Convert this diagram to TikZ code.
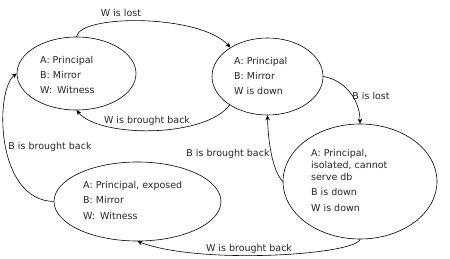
\documentclass[tikz,border=0pt]{standalone}
\usepackage{fontspec}
\setmainfont{DejaVu Sans}
\usetikzlibrary{shapes.geometric,arrows.meta}
\begin{document}
\begin{tikzpicture}[x=1pt,y=-1pt,
  state/.style={draw=black,line width=0.6pt,ellipse,inner sep=0pt},
  txt/.style={anchor=mid west,inner sep=0pt,font=\fontsize{9.5}{11}\selectfont,text=black!85},
  lbl/.style={anchor=mid,inner sep=0pt,font=\fontsize{9.5}{11}\selectfont,text=black!85},
  conn/.style={draw=black,line width=0.6pt,-{Stealth[length=5pt,width=4.5pt]}}]
\useasboundingbox (0,0) rectangle (450,259);
\fill[white] (0,0) rectangle (450,259);
% states
\node[state,minimum width=119pt,minimum height=73pt] (e1) at (76.5,73.5) {};
\node[state,minimum width=111pt,minimum height=77pt] (e2) at (267.5,76.5) {};
\node[state,minimum width=167pt,minimum height=79pt] (e3) at (137.5,201.5) {};
\node[state,minimum width=154pt,minimum height=115pt] (e4) at (360,181.5) {};
% state texts
\node[txt] (e1a) at (40,61) {A: Principal};
\node[txt] (e1b) at (40,76) {B: Mirror};
\node[txt] (e1c) at (40,91) {W:\hspace{5pt}Witness};
\node[txt] (e2a) at (234,62) {A: Principal};
\node[txt] (e2b) at (234,77) {B: Mirror};
\node[txt] (e2c) at (234,92) {W is down};
\node[txt] (e3a) at (83,186) {A: Principal, exposed};
\node[txt] (e3b) at (83,201) {B: Mirror};
\node[txt] (e3c) at (83,217) {W:\hspace{5pt}Witness};
\node[txt] (e4a) at (311,154) {A: Principal,};
\node[txt] (e4b) at (311,166) {isolated, cannot};
\node[txt] (e4c) at (311,178) {serve db};
\node[txt] (e4d) at (311,193) {B is down};
\node[txt] (e4e) at (311,209) {W is down};
% connectors
\draw[conn] (e1.90) .. controls (80,14) and (200,14) .. (e2.142);
\draw[conn] (e2.217) .. controls (205,138) and (100,138) .. (e1.270);
\draw[conn] (e2.0) .. controls (345,80) and (360,100) .. (e4.90);
\draw[conn] (e4.180) .. controls (272,170) and (268,140) .. (e2.270);
\draw[conn] (e3.180) .. controls (-5,200) and (-5,90) .. (e1.180);
\draw[conn] (e4.270) .. controls (355,255) and (200,265) .. (e3.270);
% labels
\node[lbl] (l1) at (121,14) {W is lost};
\node[lbl] (l2) at (147,121) {W is brought back};
\node[lbl] (l3) at (371,97) {B is lost};
\node[lbl] (l4) at (228,154) {B is brought back};
\node[lbl] (l5) at (50,147) {B is brought back};
\node[lbl] (l6) at (249,249) {W is brought back};
\end{tikzpicture}
\end{document}
